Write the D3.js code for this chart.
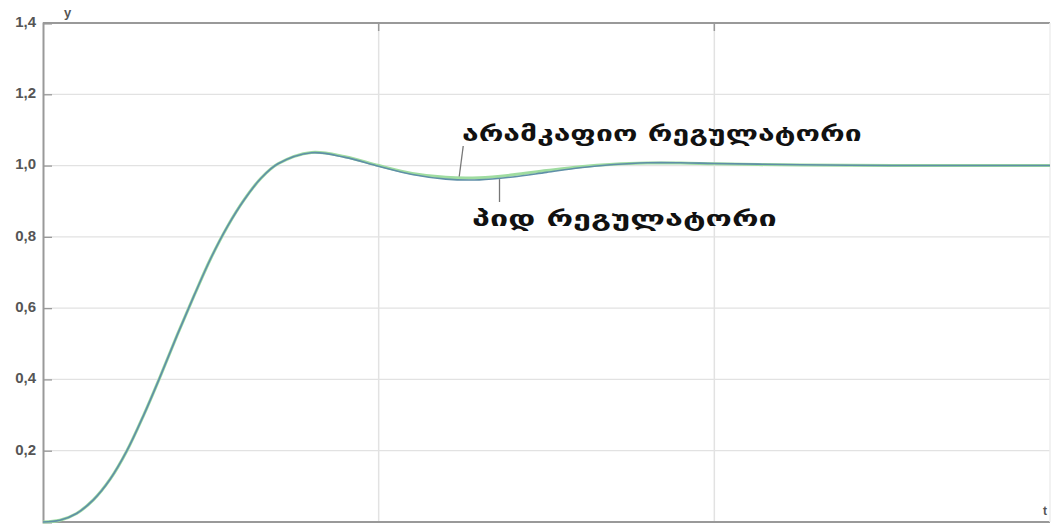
<!DOCTYPE html>
<html>
<head>
<meta charset="utf-8">
<script src="https://cdn.jsdelivr.net/npm/d3@7"></script>
<style>
  html, body { margin: 0; padding: 0; background: #fff; }
  svg { display: block; }
</style>
</head>
<body>
<svg id="chart" width="1055" height="525"></svg>
<script>
// Step response of the closed loop: time samples and outputs of both controllers
const time = [0, 0.05, 0.1, 0.15, 0.2, 0.25, 0.3, 0.35, 0.4, 0.45, 0.5, 0.55, 0.6, 0.65, 0.7,
              0.8, 0.9, 1.0, 1.1, 1.2, 1.3, 1.4, 1.5, 1.6, 1.7, 1.8, 1.9, 2.0, 2.2, 2.4, 2.6, 2.8, 3.0];
const fuzzyOut = [0, 0.005, 0.024, 0.062, 0.12, 0.2, 0.3, 0.41, 0.525, 0.635, 0.74, 0.83, 0.905, 0.965, 1.005,
              1.037, 1.025, 1.0, 0.978, 0.967, 0.966, 0.974, 0.986, 0.997, 1.004, 1.007, 1.007, 1.005, 1.002, 1.001, 1.0, 1.0, 1.0];
const pidOut = [0, 0.005, 0.024, 0.062, 0.12, 0.2, 0.3, 0.41, 0.525, 0.635, 0.74, 0.83, 0.905, 0.965, 1.005,
              1.036, 1.023, 0.998, 0.975, 0.962, 0.960, 0.968, 0.981, 0.994, 1.003, 1.008, 1.008, 1.006, 1.003, 1.001, 1.0, 1.0, 1.0];
const yTicks = [0.2, 0.4, 0.6, 0.8, 1.0, 1.2, 1.4];
const xGrid = [1, 2];
const labelFuzzy = "არამკაფიო რეგულატორი";
const labelPid = "პიდ რეგულატორი";

const svg = d3.select("#chart");
const margin = { left: 43, right: 5, top: 23, bottom: 3 };
const W = 1055, H = 525;

const x = d3.scaleLinear().domain([0, 3]).range([margin.left, W - margin.right]);
const y = d3.scaleLinear().domain([0, 1.4]).range([H - margin.bottom, margin.top]);

// grid
svg.append("g").selectAll("line.h").data(yTicks.filter(v => v < 1.4)).join("line")
  .attr("x1", x(0)).attr("x2", x(3))
  .attr("y1", d => y(d)).attr("y2", d => y(d))
  .attr("stroke", "#e2e2e2").attr("stroke-width", 1.2);
svg.append("g").selectAll("line.v").data(xGrid).join("line")
  .attr("x1", d => x(d)).attr("x2", d => x(d))
  .attr("y1", y(0)).attr("y2", y(1.4))
  .attr("stroke", "#e2e2e2").attr("stroke-width", 1.5);

// frame
svg.append("line").attr("x1", x(0)).attr("x2", x(3)).attr("y1", y(1.4)).attr("y2", y(1.4))
  .attr("stroke", "#999").attr("stroke-width", 1.8);
svg.append("line").attr("x1", x(0)).attr("x2", x(3)).attr("y1", y(0)).attr("y2", y(0))
  .attr("stroke", "#999").attr("stroke-width", 2);
svg.append("line").attr("x1", x(3)).attr("x2", x(3)).attr("y1", y(0)).attr("y2", y(1.4))
  .attr("stroke", "#eee").attr("stroke-width", 1.5);

// tick marks on top edge at grid positions
svg.append("g").selectAll("line").data(xGrid).join("line")
  .attr("x1", d => x(d)).attr("x2", d => x(d))
  .attr("y1", y(1.4)).attr("y2", y(1.4) + 8)
  .attr("stroke", "#999").attr("stroke-width", 1.5);

// left axis
const yAxis = d3.axisLeft(y).tickValues(yTicks).tickSize(-9).tickPadding(7)
  .tickFormat(d => d3.format(".1f")(d).replace(".", ","));
const ga = svg.append("g").attr("transform", `translate(${x(0)},0)`).call(yAxis);
ga.select(".domain").attr("stroke", "#999").attr("stroke-width", 2);
ga.selectAll(".tick line").attr("stroke", "#999").attr("stroke-width", 1.3);
ga.selectAll(".tick text")
  .attr("font-family", "Liberation Sans, Arial, sans-serif")
  .attr("font-size", 15).attr("font-weight", "bold").attr("fill", "#555")
  .attr("dy", "0.22em");

// axis names
svg.append("text").attr("x", x(0) + 21).attr("y", 17).text("y")
  .attr("font-family", "Liberation Sans, Arial, sans-serif").attr("font-size", 13)
  .attr("font-weight", "bold").attr("fill", "#555");
svg.append("text").attr("x", W - 12).attr("y", 515).text("t")
  .attr("font-family", "Liberation Sans, Arial, sans-serif").attr("font-size", 12)
  .attr("font-weight", "bold").attr("fill", "#555");

// response curves
const line = vals => d3.line().curve(d3.curveCatmullRom)
  .x((d, i) => x(time[i])).y(d => y(d))(vals);
svg.append("path").attr("d", line(fuzzyOut)).attr("fill", "none")
  .attr("stroke", "#9fdca0").attr("stroke-width", 3);
svg.append("path").attr("d", line(pidOut)).attr("fill", "none")
  .attr("stroke", "#5f8fa8").attr("stroke-width", 1.6);

// annotation leaders
const fz = d3.scaleLinear().domain(time).range(fuzzyOut);
const pd = d3.scaleLinear().domain(time).range(pidOut);
const tF = 1.24, tP = 1.36;
svg.append("line").attr("x1", x(tF) + 4).attr("y1", 146).attr("x2", x(tF)).attr("y2", y(fz(tF)) - 1)
  .attr("stroke", "#777").attr("stroke-width", 1.3);
svg.append("line").attr("x1", x(tP)).attr("y1", y(pd(tP)) + 1).attr("x2", x(tP)).attr("y2", 202)
  .attr("stroke", "#777").attr("stroke-width", 1.3);

// annotation labels, widened horizontally to the set width
function wideLabel(txt, x0, y0, width) {
  const t = svg.append("text").text(txt)
    .attr("font-family", "DejaVu Sans, Noto Sans, sans-serif").attr("font-size", 21)
    .attr("font-weight", "bold").attr("fill", "#111");
  const natural = t.node().getComputedTextLength();
  t.attr("transform", `translate(${x0},${y0}) scale(${width / natural},1)`);
}
wideLabel(labelFuzzy, 462, 141, 400);
wideLabel(labelPid, 472, 226, 305);
</script>
</body>
</html>
